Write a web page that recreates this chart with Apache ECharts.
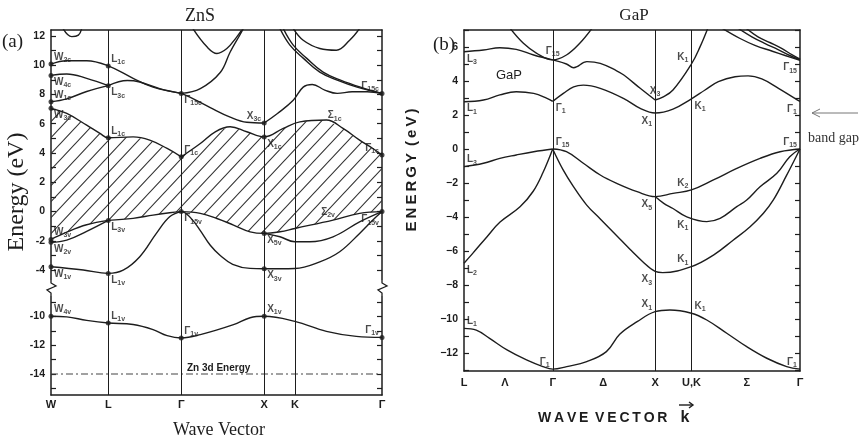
<!DOCTYPE html>
<html>
<head>
<meta charset="utf-8">
<script src="https://cdn.jsdelivr.net/npm/echarts@6/dist/echarts.min.js"></script>
<style>
  html, body { margin: 0; padding: 0; background: #fff; }
  #chart { width: 864px; height: 441px; }
</style>
</head>
<body>
<div id="chart"></div>
<script>
// ========== axes ==========
const znsTickNames = ['W', 'L', 'Γ', 'X', 'K', 'Γ'];
const znsTickPos = [0, 0.69, 1.57, 2.57, 2.94, 3.99];
const gapTickNames = ['L', 'Λ', 'Γ', 'Δ', 'X', 'U,K', 'Σ', 'Γ'];
const gapTickPos = [0, 0.40, 0.866, 1.36, 1.866, 2.22, 2.76, 3.28];
const znsUpperLabels = [-4, -2, 0, 2, 4, 6, 8, 10, 12];
const znsUpperTicks = [-5, -4, -3, -2, -1, 0, 1, 2, 3, 4, 5, 6, 7, 8, 9, 10, 11, 12];
const znsLowerLabels = [-14, -12, -10];
const znsLowerTicks = [-15, -14, -13, -12, -11, -10, -9, -8];
const gapYLabels = [-12, -10, -8, -6, -4, -2, 0, 2, 4, 6];
const gapYTicks = [-13, -12, -11, -10, -9, -8, -7, -6, -5, -4, -3, -2, -1, 0, 1, 2, 3, 4, 5, 6, 7];

// ========== ZnS bands [k, E] ==========
const znsW2cL1cG15c = [[0, 10.07], [0.19, 10.3], [0.43, 10.3], [0.69, 9.95], [0.99, 9.1], [1.23, 8.5], [1.57, 8.07]];
const znsW4cL3c = [[0, 9.3], [0.19, 9.4], [0.43, 9.1], [0.69, 8.6]];
const znsW1cL3c = [[0, 7.5], [0.19, 7.7], [0.43, 8.2], [0.69, 8.6]];
const znsL3cG15c = [[0.69, 8.6], [0.92, 8.95], [1.07, 8.85], [1.31, 8.4], [1.57, 8.07]];
const znsG15cX3c = [[1.57, 8.07], [1.68, 7.8], [1.92, 7.1], [2.16, 6.45], [2.36, 6.1], [2.57, 6.05]];
const znsX3cG15c = [[2.57, 6.05], [2.73, 6.7], [2.92, 7.6], [3.04, 8.5], [3.15, 8.68], [3.30, 8.3], [3.45, 8.07], [3.63, 8.18], [3.81, 8.18], [3.99, 8.07]];
const znsG15cUp = [[1.57, 8.07], [1.80, 8.4], [2.04, 9.5], [2.16, 10.9], [2.30, 12.3], [2.35, 12.9]];
const znsTopU = [[1.71, 12.5], [1.88, 11.25], [2.00, 10.8], [2.12, 11.14], [2.24, 11.93], [2.30, 12.4]];
const znsTopBump = [[2.92, 12.5], [3.04, 11.7], [3.24, 11.14], [3.44, 11.02], [3.60, 11.7], [3.72, 12.5]];
const znsTopLeftDip = [[0.145, 12.5], [0.25, 11.95], [0.33, 12.05], [0.37, 12.5]];
const znsPairA = [[2.76, 12.5], [2.88, 11.37], [3.04, 10.48], [3.24, 9.52], [3.45, 8.98], [3.69, 8.5], [3.99, 8.07]];
const znsPairB = [[2.80, 12.5], [2.92, 11.37], [3.08, 10.48], [3.28, 9.52], [3.49, 8.98], [3.73, 8.5], [3.99, 8.07]];
const znsW3cL1cG1c = [[0, 7.05], [0.19, 6.7], [0.43, 5.9], [0.59, 5.34], [0.69, 5.04], [0.99, 5.1], [1.19, 4.88], [1.40, 4.31], [1.57, 3.74]];
const znsG1cX1cG1c = [[1.57, 3.74], [1.80, 4.65], [1.98, 5.45], [2.16, 5.79], [2.36, 5.45], [2.57, 5.1], [2.80, 5.68], [3.00, 6.13], [3.32, 6.25], [3.52, 5.68], [3.72, 4.88], [3.88, 4.31], [3.99, 3.86]];

const znsW3vL3v = [[0, -1.9], [0.19, -1.4], [0.43, -0.9], [0.69, -0.6]];
const znsW2vL3v = [[0, -2.1], [0.19, -1.95], [0.43, -1.35], [0.69, -0.6]];
const znsL3vG15v = [[0.69, -0.6], [0.99, -0.46], [1.23, -0.24], [1.43, -0.08], [1.57, 0]];
const znsW1vL1vG15v = [[0, -3.77], [0.39, -3.99], [0.69, -4.22], [0.87, -4.0], [1.07, -3.08], [1.27, -1.49], [1.43, -0.35], [1.57, 0]];
const znsG15vX5vG15v = [[1.57, 0], [1.80, -0.12], [2.00, -0.47], [2.20, -0.92], [2.40, -1.38], [2.57, -1.49], [2.76, -1.38], [2.94, -1.15], [3.40, -0.58], [3.72, -0.12], [3.99, 0]];
const znsX5vLower = [[2.57, -1.49], [2.76, -1.72], [2.94, -2.06], [3.12, -2.06], [3.40, -1.72], [3.72, -0.7], [3.99, 0]];
const znsG15vX3v = [[1.57, 0], [1.62, -0.1], [1.71, -0.6], [1.80, -1.3], [1.92, -2.3], [2.04, -3.0], [2.19, -3.6], [2.40, -3.88], [2.57, -3.9]];
const znsX3vG15v = [[2.57, -3.9], [2.94, -3.88], [3.24, -3.43], [3.48, -2.74], [3.72, -1.49], [3.88, -0.58], [3.99, 0]];
const znsLowBand = [[0, -10.0], [0.19, -10.04], [0.43, -10.28], [0.69, -10.46], [0.99, -10.57], [1.23, -10.92], [1.40, -11.34], [1.57, -11.5], [1.80, -11.27], [2.20, -10.58], [2.40, -10.1], [2.57, -10.0], [2.94, -10.35], [3.32, -11.04], [3.68, -11.39], [3.99, -11.46]];
const znsZn3d = [[0, -14], [3.99, -14]];

// named points [label, k, E]
const znsPointsUp = [
  ['W|2c', 0, 10.07], ['W|4c', 0, 9.3], ['W|1c', 0, 7.5], ['W|3c', 0, 7.05],
  ['L|1c', 0.69, 9.95], ['L|3c', 0.69, 8.6], ['L|1c', 0.69, 5.04],
  ['Γ|15c', 1.57, 8.07], ['Γ|1c', 1.57, 3.74], ['X|3c', 2.57, 6.05], ['X|1c', 2.57, 5.1],
  ['Γ|15c', 3.99, 8.07], ['Γ|1c', 3.99, 3.86],
  ['W|3v', 0, -1.9], ['W|2v', 0, -2.1], ['W|1v', 0, -3.77], ['L|3v', 0.69, -0.6], ['L|1v', 0.69, -4.22],
  ['Γ|15v', 1.57, 0], ['X|5v', 2.57, -1.49], ['X|3v', 2.57, -3.9], ['Γ|15v', 3.99, 0]
];
const znsPointsLow = [['W|4v', 0, -10], ['L|1v', 0.69, -10.46], ['Γ|1v', 1.57, -11.5], ['X|1v', 2.57, -10], ['Γ|1v', 3.99, -11.46]];
const znsSigmaNames = [['Σ|1c', 3.42, 6.55], ['Σ|2v', 3.34, -0.05]];

// ========== GaP bands [k, E] ==========
const gapL3Up = [[0, 5.72], [0.19, 5.82], [0.35, 5.96], [0.51, 5.86], [0.68, 5.53], [0.866, 5.24]];
const gapG15X3 = [[0.866, 5.24], [1.00, 5.0], [1.07, 4.78], [1.20, 5.14], [1.33, 5.04], [1.49, 4.6], [1.56, 4.35], [1.72, 3.57], [1.866, 2.88]];
const gapX3K1Up = [[1.866, 2.88], [1.94, 3.05], [2.04, 3.47], [2.22, 5.0], [2.305, 6.02], [2.38, 7.1]];
const gapGammaCup = [[0.45, 7.1], [0.58, 6.22], [0.71, 5.63], [0.866, 5.24], [1.00, 5.53], [1.13, 6.22], [1.25, 7.1]];
const gapL1G1 = [[0, 2.78], [0.19, 2.88], [0.35, 3.18], [0.51, 3.37], [0.68, 3.27], [0.81, 2.98], [0.866, 2.8]];
const gapG1X1K1G1 = [[0.866, 2.8], [0.97, 3.27], [1.07, 3.66], [1.165, 3.76], [1.33, 3.57], [1.556, 2.98], [1.72, 2.39], [1.866, 2.12], [2.04, 2.35], [2.22, 2.95], [2.353, 3.47], [2.483, 3.96], [2.646, 4.25], [2.773, 4.3], [2.907, 4.12], [3.07, 3.57], [3.23, 2.98], [3.28, 2.8]];
const gapTopA = [[2.52, 7.1], [2.695, 6.5], [2.84, 6.1], [3.01, 5.75], [3.135, 5.5], [3.28, 5.22]];
const gapTopB = [[2.676, 7.1], [2.81, 6.6], [2.94, 6.2], [3.066, 5.85], [3.18, 5.5], [3.28, 5.25]];
const gapTopC = [[2.754, 7.1], [2.87, 6.6], [2.99, 6.25], [3.105, 5.9], [3.20, 5.55], [3.28, 5.28]];
const gapL3G15 = [[0, -1.04], [0.19, -0.84], [0.35, -0.55], [0.51, -0.35], [0.68, -0.16], [0.866, 0]];
const gapG15X5K2G15 = [[0.866, 0], [1.00, -0.16], [1.165, -0.84], [1.33, -1.53], [1.49, -2.02], [1.69, -2.51], [1.866, -2.8], [2.04, -2.61], [2.22, -2.41], [2.435, -1.82], [2.663, -1.14], [2.89, -0.55], [3.086, -0.16], [3.28, 0]];
const gapX5K1G15 = [[1.866, -2.8], [1.95, -3.2], [2.04, -3.5], [2.17, -3.98], [2.37, -4.27], [2.50, -4.08], [2.663, -3.39], [2.76, -3.0], [2.89, -2.22], [3.054, -1.43], [3.18, -0.45], [3.28, 0]];
const gapG15X3K1G15 = [[0.866, 0], [0.965, -1.2], [1.067, -2.2], [1.198, -3.3], [1.328, -4.1], [1.491, -5.1], [1.62, -5.9], [1.74, -6.6], [1.866, -7.2], [1.94, -7.27], [2.22, -6.92], [2.435, -6.24], [2.63, -5.35], [2.793, -4.57], [2.923, -3.78], [3.02, -3.0], [3.145, -1.6], [3.28, 0]];
const gapL2G15 = [[0, -6.72], [0.085, -6.14], [0.225, -5.16], [0.352, -4.3], [0.547, -3.4], [0.674, -2.5], [0.77, -1.4], [0.866, 0]];
const gapBottom = [[0, -10.55], [0.12, -10.65], [0.25, -11.14], [0.42, -11.82], [0.61, -12.41], [0.77, -12.8], [0.866, -12.95], [1.003, -12.8], [1.198, -12.51], [1.39, -11.92], [1.52, -10.9], [1.69, -10.16], [1.866, -9.57], [2.01, -9.47], [2.22, -9.66], [2.37, -10.06], [2.565, -10.84], [2.76, -11.63], [2.956, -12.31], [3.15, -12.8], [3.28, -12.95]];

const gapPoints = [
  ['L|3', 0, 5.72], ['L|1', 0, 2.78], ['Γ|15', 0.866, 5.24], ['Γ|1', 0.866, 2.8],
  ['L|3', 0, -1.04], ['Γ|15', 0.866, 0], ['L|2', 0, -6.72], ['L|1', 0, -10.55], ['Γ|1', 0.866, -12.95],
  ['X|3', 1.866, 2.88], ['X|1', 1.866, 2.12], ['K|1', 2.22, 5.0], ['K|1', 2.22, 2.95],
  ['Γ|15', 3.28, 5.25], ['Γ|1', 3.28, 2.8], ['Γ|15', 3.28, 0],
  ['K|2', 2.22, -2.41], ['X|5', 1.866, -2.8], ['K|1', 2.22, -4.0], ['K|1', 2.22, -6.92],
  ['X|3', 1.866, -7.22], ['X|1', 1.866, -9.57], ['K|1', 2.22, -9.66], ['Γ|1', 3.28, -12.95]
];

// ========== style ==========
const INK = '#1d1d1d';
const SANS = '"Liberation Sans", Arial, sans-serif';
const SERIF = '"Liberation Serif", "Times New Roman", serif';
const znsPlacesUp = ['ne', 'se', 'ne', 'se', 'ne', 'se', 'ne', 'se', 'ne', 'nw', 'se', 'nw', 'nw',
  'ne', 'se', 'se', 'se', 'se', 'se', 'se', 'se', 'sw'];
const znsPlacesLow = ['ne', 'ne', 'ne', 'ne', 'nw'];
const gapPlaces = ['se', 'se', 'n', 'se', 'ne', 'ne', 'se', 'ne', 'nw', 'n', 'sw', 'nw', 'se',
  'sw', 'sw', 'nw', 'nw', 'sw', 'sw', 'nw', 'sw', 'nw', 'ne', 'nw'];
const PLACE = {
  ne: ['left', [3, -7]], se: ['left', [3, 7]], nw: ['right', [-3, -7]], sw: ['right', [-3, 8]],
  n: ['center', [0, -9]], c: ['center', [0, 0]]
};
const RICH = {
  m: { fontSize: 10, fontWeight: 'bold', fontFamily: SANS, color: INK, lineHeight: 13 },
  s: { fontSize: 7, fontWeight: 'bold', fontFamily: SANS, color: INK, lineHeight: 8, verticalAlign: 'bottom' }
};

let chart = null;

function init() {
  chart = echarts.init(document.getElementById('chart'), null, { renderer: 'canvas' });
  chart.setOption(buildOption());
}

// ========== helpers ==========
function band(data, xi, yi, extra) {
  return Object.assign({
    type: 'line', xAxisIndex: xi, yAxisIndex: yi, data: data,
    smooth: 0.4, showSymbol: false, silent: true, animation: false, z: 3,
    lineStyle: { color: INK, width: 1.4 }
  }, extra || {});
}

function richName(name) {
  const parts = name.split('|');
  return parts[1] ? `{m|${parts[0]}}{s|${parts[1]}}` : `{m|${parts[0]}}`;
}

function pointSeries(list, places, xi, yi, dot) {
  return {
    type: 'scatter', xAxisIndex: xi, yAxisIndex: yi, silent: true, animation: false, z: 5,
    symbol: 'circle', symbolSize: dot ? 5 : 1,
    itemStyle: { color: dot ? INK : 'rgba(0,0,0,0)' },
    data: list.map((p, i) => {
      const pl = PLACE[places[i]];
      return {
        value: [p[1], p[2]], name: p[0],
        label: { show: true, position: 'inside', align: pl[0], verticalAlign: 'middle', offset: pl[1] }
      };
    }),
    label: { show: true, formatter: (p) => richName(p.name), rich: RICH }
  };
}

function verticals(xs) {
  return {
    silent: true, symbol: ['none', 'none'], animation: false,
    label: { show: false },
    lineStyle: { color: INK, width: 1, type: 'solid' },
    data: xs.map(x => ({ xAxis: x }))
  };
}

function hatchPattern() {
  const w = 15, h = 16;
  const c = document.createElement('canvas');
  c.width = w; c.height = h;
  const ctx = c.getContext('2d');
  ctx.strokeStyle = '#333';
  ctx.lineWidth = 1.1;
  ctx.beginPath();
  ctx.moveTo(0, h); ctx.lineTo(w, 0);
  ctx.moveTo(-2, 2); ctx.lineTo(2, -2);
  ctx.moveTo(w - 2, h + 2); ctx.lineTo(w + 2, h - 2);
  ctx.stroke();
  return { image: c, repeat: 'repeat' };
}

function yAxisOf(grid, min, max, side, labels, ticks, minus) {
  return {
    type: 'value', gridIndex: grid, min: min, max: max, position: side,
    axisLine: { show: true, onZero: false, lineStyle: { color: INK, width: 1.5 } },
    axisTick: { show: true, inside: true, length: 5, customValues: ticks, lineStyle: { color: INK, width: 1.2 } },
    axisLabel: labels ? {
      customValues: labels, margin: 6, fontSize: 10.5, fontWeight: 'bold', fontFamily: SANS, color: INK,
      formatter: v => (v < 0 ? minus + Math.abs(v) : String(v))
    } : { show: false },
    splitLine: { show: false }
  };
}

function xAxisOf(grid, max, side, pos, names, margin) {
  return {
    type: 'value', gridIndex: grid, min: 0, max: max, position: side,
    axisLine: { show: true, onZero: false, lineStyle: { color: INK, width: 1.5 } },
    axisTick: { show: false },
    axisLabel: pos ? {
      customValues: pos, margin: margin, fontSize: 11, fontWeight: 'bold', fontFamily: SANS, color: INK,
      formatter: v => names[pos.findIndex(p => Math.abs(p - v) < 1e-6)]
    } : { show: false },
    splitLine: { show: false }
  };
}

// ========== option ==========
function buildOption() {
  const hatchTop = znsW3cL1cG1c.concat(znsG1cX1cG1c.slice(1));
  const hatchBottom = znsW3vL3v.concat(znsL3vG15v.slice(1), znsG15vX5vG15v.slice(1));
  const fill = hatchPattern();
  const innerX = znsTickPos.slice(1, 5);

  const upper = [znsW2cL1cG15c, znsW4cL3c, znsW1cL3c, znsL3cG15c, znsG15cX3c, znsX3cG15c, znsG15cUp,
    znsTopU, znsTopBump, znsTopLeftDip, znsPairA, znsPairB, znsW3cL1cG1c, znsG1cX1cG1c,
    znsW3vL3v, znsW2vL3v, znsL3vG15v, znsW1vL1vG15v, znsG15vX5vG15v, znsX5vLower, znsG15vX3v, znsX3vG15v];
  const gap = [gapL3Up, gapG15X3, gapX3K1Up, gapGammaCup, gapL1G1, gapG1X1K1G1, gapTopA, gapTopB, gapTopC,
    gapL3G15, gapG15X5K2G15, gapX5K1G15, gapG15X3K1G15, gapL2G15, gapBottom];

  const series = [];
  upper.forEach((d, i) => series.push(band(d, 0, 0, i === 0 ? { markLine: verticals(innerX) } : {})));
  series.push(band(znsLowBand, 1, 2, { markLine: verticals(innerX) }));
  series.push(band(znsZn3d, 1, 2, { smooth: false, lineStyle: { color: '#444', width: 1.1, type: [7, 3, 2, 3] } }));
  gap.forEach((d, i) => series.push(band(d, 2, 4, i === 0 ? { markLine: verticals([gapTickPos[2], gapTickPos[4], gapTickPos[5]]) } : {})));

  // hatched gap region between valence top and conduction bottom
  series.push({
    type: 'custom', xAxisIndex: 0, yAxisIndex: 0, data: [[0, 0]], silent: true, animation: false, z: 1, clip: true,
    renderItem: (params, api) => {
      const top = hatchTop.map(p => api.coord(p));
      const bot = hatchBottom.map(p => api.coord(p)).reverse();
      return { type: 'polygon', shape: { points: top.concat(bot) }, style: { fill: fill, stroke: null } };
    }
  });

  series.push(pointSeries(znsPointsUp, znsPlacesUp, 0, 0, true));
  series.push(pointSeries(znsPointsLow, znsPlacesLow, 1, 2, true));
  series.push(pointSeries(znsSigmaNames, ['c', 'c'], 0, 0, false));
  series.push(pointSeries(gapPoints, gapPlaces, 2, 4, false));

  return {
    backgroundColor: '#fff',
    animation: false,
    grid: [
      { left: 51, top: 30, width: 331, height: 256 },
      { left: 51, top: 286, width: 331, height: 109 },
      { left: 464, top: 30, width: 336, height: 341 }
    ],
    xAxis: [
      xAxisOf(0, 3.99, 'top', null),
      xAxisOf(1, 3.99, 'bottom', znsTickPos, znsTickNames, 4),
      xAxisOf(2, 3.28, 'bottom', gapTickPos, gapTickNames, 6),
      xAxisOf(2, 3.28, 'top', null)
    ],
    yAxis: [
      yAxisOf(0, -5.08, 12.4, 'left', znsUpperLabels, znsUpperTicks, '-'),
      yAxisOf(0, -5.08, 12.4, 'right', null, znsUpperTicks),
      yAxisOf(1, -15.45, -7.9, 'left', znsLowerLabels, znsLowerTicks, '-'),
      yAxisOf(1, -15.45, -7.9, 'right', null, znsLowerTicks),
      yAxisOf(2, -13.06, 7.0, 'left', gapYLabels, gapYTicks, '−'),
      yAxisOf(2, -13.06, 7.0, 'right', null, gapYTicks)
    ],
    series: series,
    graphic: buildGraphics()
  };
}

// ========== texts and decorations ==========
function buildGraphics() {
  const t = (x, y, text, font, extra) => Object.assign({
    type: 'text', x: x, y: y, silent: true, z: 100,
    style: Object.assign({ text: text, font: font, fill: INK, textAlign: 'center', textVerticalAlign: 'middle' }, (extra && extra.style) || {})
  }, extra ? { rotation: extra.rotation || 0 } : {});
  const zig = (x) => [
    { type: 'rect', silent: true, z: 100, shape: { x: x - 5, y: 280, width: 10, height: 16 }, style: { fill: '#fff' } },
    { type: 'polyline', silent: true, z: 101, shape: { points: [[x, 280], [x, 283], [x + 5, 286], [x - 4, 290], [x, 293], [x, 296]] }, style: { stroke: INK, lineWidth: 1.3, fill: null } }
  ];
  return [
    t(200, 16, 'ZnS', '18px ' + SERIF),
    t(634, 16, 'GaP', '17px ' + SERIF),
    t(2, 42, '(a)', '19px ' + SERIF, { style: { textAlign: 'left' } }),
    t(433, 45, '(b)', '19px ' + SERIF, { style: { textAlign: 'left' } }),
    t(17, 192, 'Energy (eV)', '24px ' + SERIF, { rotation: Math.PI / 2 }),
    t(219, 430, 'Wave Vector', '18px ' + SERIF),
    t(412, 170, 'E\u2009N\u2009E\u2009R\u2009G\u2009Y\u2009 (\u2009e\u2009V\u2009)', 'bold 15px ' + SANS, { rotation: Math.PI / 2 }),
    t(538, 418, 'W\u2009A\u2009V\u2009E\u2009 V\u2009E\u2009C\u2009T\u2009O\u2009R', 'bold 14px ' + SANS, { style: { textAlign: 'left' } }),
    t(685, 418, 'k', 'bold 16px ' + SANS),
    { type: 'polyline', silent: true, z: 100, shape: { points: [[679, 405], [693, 405]] }, style: { stroke: INK, lineWidth: 1.4, fill: null } },
    { type: 'polyline', silent: true, z: 100, shape: { points: [[689, 402], [693, 405], [689, 408]] }, style: { stroke: INK, lineWidth: 1.4, fill: null } },
    t(509, 75, 'GaP', '13px ' + SANS),
    t(187, 368, 'Zn 3d Energy', 'bold 10px ' + SANS, { style: { textAlign: 'left' } }),
    t(808, 138, 'band gap', '14px ' + SERIF, { style: { textAlign: 'left', fill: '#333' } }),
    { type: 'polyline', silent: true, z: 100, shape: { points: [[858, 113], [812, 113]] }, style: { stroke: '#777', lineWidth: 1, fill: null } },
    { type: 'polyline', silent: true, z: 100, shape: { points: [[820, 109], [812, 113], [820, 117]] }, style: { stroke: '#777', lineWidth: 1, fill: null } }
  ].concat(zig(51), zig(382));
}

// ========== start ==========
init();
</script>
</body>
</html>
